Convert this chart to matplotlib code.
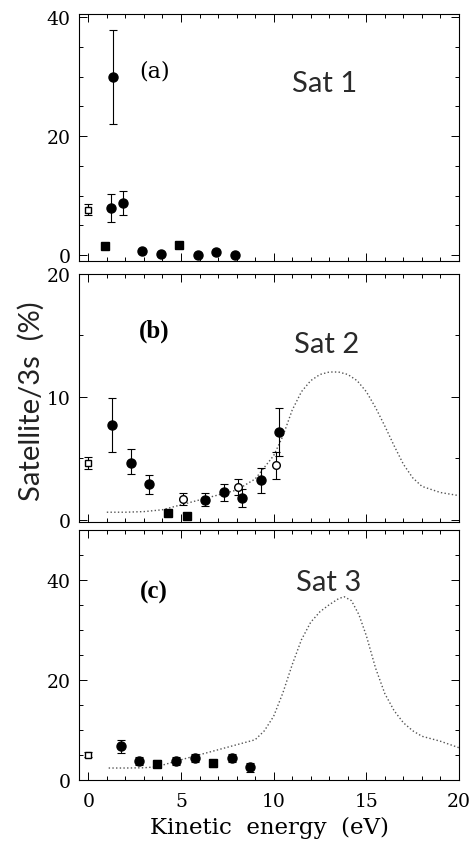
import matplotlib
matplotlib.use('Agg')
import matplotlib.pyplot as plt
from matplotlib.ticker import MultipleLocator
import numpy as np

# ---- panel (a) : Sat 1 ----
a_open_x = [0.0]
a_open_y = [7.6]
a_open_err = [0.9]
a_circ_x = [1.36, 1.2, 1.88, 2.9, 3.9, 5.9, 6.9, 7.9]
a_circ_y = [30.0, 7.9, 8.7, 0.7, 0.15, 0.0, 0.5, 0.0]
a_circ_lo = [8.0, 2.3, 2.0, 0.3, 0.3, 0.3, 0.3, 0.3]
a_circ_hi = [7.8, 2.4, 2.0, 0.3, 0.3, 0.3, 0.3, 0.3]
a_sq_x = [0.9, 4.9]
a_sq_y = [1.5, 1.6]
a_sq_err = [0.5, 0.4]

# ---- panel (b) : Sat 2 ----
b_open_sq_x = [0.0]
b_open_sq_y = [4.6]
b_open_sq_err = [0.5]
b_circ_x = [1.3, 2.3, 3.3, 6.3, 7.3, 8.3, 9.3, 10.3]
b_circ_y = [7.7, 4.6, 2.9, 1.6, 2.25, 1.75, 3.2, 7.1]
b_circ_lo = [2.2, 0.9, 0.8, 0.5, 0.75, 0.7, 1.0, 1.9]
b_circ_hi = [2.2, 1.1, 0.7, 0.6, 0.65, 0.75, 1.0, 1.95]
b_ocirc_x = [5.1, 8.05, 10.1]
b_ocirc_y = [1.65, 2.65, 4.4]
b_ocirc_err = [0.5, 0.65, 1.1]
b_sq_x = [4.3, 5.3]
b_sq_y = [0.55, 0.27]
b_curve_x = [1.0, 2, 3, 4, 5, 6, 7, 8, 9, 10, 10.5, 11, 11.5, 12, 12.5, 13, 13.5, 14, 14.5,
             15, 15.5, 16, 16.5, 17, 17.5, 18, 19, 20]
b_curve_y = [0.6, 0.6, 0.65, 0.8, 1.2, 1.6, 2.0, 2.4, 3.3, 5.2, 6.8, 8.9, 10.4, 11.3, 11.8, 12.0, 12.0,
             11.8, 11.3, 10.4, 9.1, 7.6, 6.0, 4.5, 3.4, 2.7, 2.2, 1.95]

# ---- panel (c) : Sat 3 ----
c_open_x = [0.0]
c_open_y = [5.0]
c_open_err = [0.5]
c_circ_x = [1.75, 2.75, 4.75, 5.75, 7.75, 8.75]
c_circ_y = [6.7, 3.8, 3.8, 4.4, 4.3, 2.5]
c_circ_err = [1.3, 0.8, 0.8, 0.8, 0.8, 0.9]
c_sq_x = [3.7, 6.75]
c_sq_y = [3.2, 3.35]
c_sq_err = [0.7, 0.7]
c_curve_x = [1.1, 2, 3, 3.7, 5, 6, 7, 8, 9, 9.5, 10, 10.5, 11, 11.5, 12, 12.5, 13, 13.5, 13.8,
             14.2, 14.6, 15, 15.5, 16, 16.5, 17, 17.5, 18, 19, 20]
c_curve_y = [2.35, 2.35, 2.4, 2.6, 4.0, 5.0, 6.0, 7.0, 8.0, 9.8, 12.7, 17.4, 23.0, 28.0, 31.5, 33.6, 35.0,
             36.2, 36.6, 35.8, 33.0, 28.8, 22.3, 17.2, 13.8, 11.4, 9.8, 8.7, 7.7, 6.4]

serif = 'DejaVu Serif'

fig = plt.figure(figsize=(4.74, 8.45), dpi=100)
L, W = 0.1667, 0.8017
ax_a = fig.add_axes([L, 0.690, W, 0.292])
ax_b = fig.add_axes([L, 0.381, W, 0.294])
ax_c = fig.add_axes([L, 0.076, W, 0.296])

ekw = dict(ecolor='black', elinewidth=0.8, capsize=3, capthick=0.8, linestyle='none')
sat_kw = dict(fontsize=21, va='center', color='#2a2a2a', family='Lato')
lab_kw = dict(family='Liberation Serif', fontsize=18, fontweight='bold', va='center')

# (a)
ax_a.errorbar(a_open_x, a_open_y, yerr=a_open_err, marker='s', ms=4, mfc='white', mec='black', **ekw)
ax_a.errorbar(a_circ_x, a_circ_y, yerr=[a_circ_lo, a_circ_hi], marker='o', ms=6.5, mfc='black', mec='black', **ekw)
ax_a.errorbar(a_sq_x, a_sq_y, yerr=a_sq_err, marker='s', ms=5.5, mfc='black', mec='black', **ekw)
ax_a.set_ylim(-1, 40.5)
ax_a.yaxis.set_major_locator(MultipleLocator(20))
ax_a.yaxis.set_minor_locator(MultipleLocator(5))
ax_a.text(2.75, 31, '(a)', family=serif, fontsize=16, va='center')
ax_a.text(11.0, 29, 'Sat 1', **sat_kw)

# (b)
ax_b.plot(b_curve_x, b_curve_y, linestyle=':', color='#555555', lw=1.0)
ax_b.errorbar(b_open_sq_x, b_open_sq_y, yerr=b_open_sq_err, marker='s', ms=4, mfc='white', mec='black', **ekw)
ax_b.errorbar(b_circ_x, b_circ_y, yerr=[b_circ_lo, b_circ_hi], marker='o', ms=6.5, mfc='black', mec='black', **ekw)
ax_b.errorbar(b_ocirc_x, b_ocirc_y, yerr=b_ocirc_err, marker='o', ms=5.5, mfc='white', mec='black', **ekw)
ax_b.plot(b_sq_x, b_sq_y, linestyle='none', marker='s', ms=5.5, color='black')
ax_b.set_ylim(-0.2, 20)
ax_b.yaxis.set_major_locator(MultipleLocator(10))
ax_b.yaxis.set_minor_locator(MultipleLocator(5))
ax_b.text(2.75, 15.4, '(b)', **lab_kw)
ax_b.text(11.1, 14.3, 'Sat 2', **sat_kw)

# (c)
ax_c.plot(c_curve_x, c_curve_y, linestyle=':', color='#555555', lw=1.0)
ax_c.errorbar(c_open_x, c_open_y, yerr=c_open_err, marker='s', ms=4, mfc='white', mec='black', **ekw)
ax_c.errorbar(c_circ_x, c_circ_y, yerr=c_circ_err, marker='o', ms=6.5, mfc='black', mec='black', **ekw)
ax_c.errorbar(c_sq_x, c_sq_y, yerr=c_sq_err, marker='s', ms=5.5, mfc='black', mec='black', **ekw)
ax_c.set_ylim(0, 50)
ax_c.yaxis.set_major_locator(MultipleLocator(20))
ax_c.yaxis.set_minor_locator(MultipleLocator(5))
ax_c.text(2.8, 37.6, '(c)', **lab_kw)
ax_c.text(11.2, 39.6, 'Sat 3', **sat_kw)

for ax in (ax_a, ax_b, ax_c):
    ax.set_xlim(-0.5, 20)
    ax.xaxis.set_major_locator(MultipleLocator(5))
    ax.xaxis.set_minor_locator(MultipleLocator(1))
    ax.tick_params(which='both', direction='in', top=True, right=True, width=0.7)
    ax.tick_params(which='major', length=6, labelsize=13.5, pad=6)
    ax.tick_params(which='minor', length=3)
    for s in ax.spines.values():
        s.set_linewidth(0.8)
    for lab in ax.get_xticklabels() + ax.get_yticklabels():
        lab.set_family(serif)
    if ax is not ax_c:
        ax.tick_params(labelbottom=False)

ax_c.tick_params(axis='x', which='major', pad=9)
ax_c.set_xlabel('Kinetic  energy  (eV)', family=serif, fontsize=16.5, labelpad=4)
fig.text(0.065, 0.525, 'Satellite/3s  (%)', rotation=90, fontsize=21, ha='center', va='center',
         color='#222222', family='Lato')

fig.savefig('out.png', dpi=100)
